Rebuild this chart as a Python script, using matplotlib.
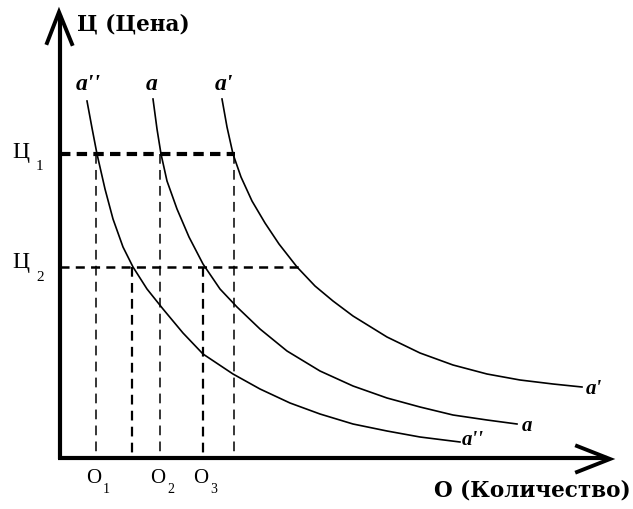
import matplotlib
matplotlib.use("Agg")
import matplotlib.pyplot as plt

plt.rcParams['lines.scale_dashes'] = False

# Demand curves (pixel-like coordinates: x right, y down)
a2_x = [87, 92, 97, 105, 113, 123, 133, 147, 163, 183, 203, 233, 260, 290, 320, 353, 387, 420, 460]
a2_y = [102, 129, 155, 190, 220, 248, 268, 290, 310, 334, 355, 375, 390, 404, 415, 425, 432, 438, 443]

a_x = [153, 157, 161, 167, 177, 189, 203, 220, 237, 260, 287, 320, 353, 387, 420, 453, 487, 517]
a_y = [100, 130, 155, 182, 210, 238, 265, 290, 308, 330, 352, 372, 387, 399, 408, 416, 421, 425]

a1_x = [222, 227, 233, 241, 252, 265, 279, 297, 315, 333, 353, 387, 420, 453, 487, 520, 553, 582]
a1_y = [100, 128, 155, 178, 202, 224, 245, 268, 287, 302, 317, 338, 354, 366, 375, 381, 385, 388]

# price levels and quantities
price_levels = {"P1": 155, "P2": 268}
q_from_p1 = [96, 160, 234]
q_from_p2 = [132, 203]
origin_x, origin_y = 60, 459

serif = ['Liberation Serif', 'DejaVu Serif']
wide_serif = ['DejaVu Serif']

fig = plt.figure(figsize=(6.33, 5.10), dpi=100)
ax = fig.add_axes([0, 0, 1, 1])
ax.set_xlim(0, 633)
ax.set_ylim(510, 0)
ax.axis('off')

# axes
ax.plot([origin_x, origin_x], [origin_y + 1, 16], color='black', lw=3, solid_capstyle='butt')
ax.plot([origin_x - 2, 607], [origin_y, origin_y], color='black', lw=3, solid_capstyle='butt')
ax.plot([47, 59, 72], [44, 13, 45], color='black', lw=2.8, solid_joinstyle='miter')
ax.plot([577, 610, 577], [447, 460, 473], color='black', lw=2.8, solid_joinstyle='miter')

# dashed guide lines
ax.plot([origin_x, 235], [price_levels["P1"]] * 2, color='black', lw=3.0, dashes=(7.5, 4.5))
ax.plot([origin_x, 300], [price_levels["P2"]] * 2, color='black', lw=1.8, dashes=(6.5, 4.5))
for qx in q_from_p1:
    ax.plot([qx, qx], [price_levels["P1"], origin_y], color='black', lw=1.1, dashes=(7, 4.5))
for qx in q_from_p2:
    ax.plot([qx, qx], [price_levels["P2"], origin_y], color='black', lw=1.6, dashes=(7, 4.5))

# curves
for xs, ys in [(a2_x, a2_y), (a_x, a_y), (a1_x, a1_y)]:
    ax.plot(xs, ys, color='black', lw=1.2, solid_joinstyle='round')

# labels
ax.text(77, 25, "Ц (Цена)", family=wide_serif, fontweight='bold', fontsize=15.5, va='center', ha='left')
ax.text(631, 491, "О (Количество)", family=wide_serif, fontweight='bold', fontsize=15.5, va='center', ha='right')

ax.text(88, 84, "a''", family=serif, style='italic', fontweight='bold', fontsize=17, va='center', ha='center')
ax.text(152, 84, "a", family=serif, style='italic', fontweight='bold', fontsize=17, va='center', ha='center')
ax.text(224, 84, "a'", family=serif, style='italic', fontweight='bold', fontsize=17, va='center', ha='center')
ax.text(586, 389, "a'", family=serif, style='italic', fontweight='bold', fontsize=15, va='center', ha='left')
ax.text(522, 426, "a", family=serif, style='italic', fontweight='bold', fontsize=15, va='center', ha='left')
ax.text(462, 440, "a''", family=serif, style='italic', fontweight='bold', fontsize=15, va='center', ha='left')

# price ticks
ax.text(12, 153, "Ц", family=serif, fontsize=17, va='center', ha='left')
ax.text(36, 167, "1", family=serif, fontsize=11, va='center', ha='left')
ax.text(12, 263, "Ц", family=serif, fontsize=17, va='center', ha='left')
ax.text(36, 278, "2", family=serif, fontsize=11, va='center', ha='left')

# quantity ticks
for lx, sub in [(86, "1"), (150, "2"), (193, "3")]:
    ax.text(lx, 479, "О", family=serif, fontsize=15, va='center', ha='left')
    ax.text(lx + 17, 490, sub, family=serif, fontsize=10, va='center', ha='left')

fig.savefig("out.png", dpi=100)
